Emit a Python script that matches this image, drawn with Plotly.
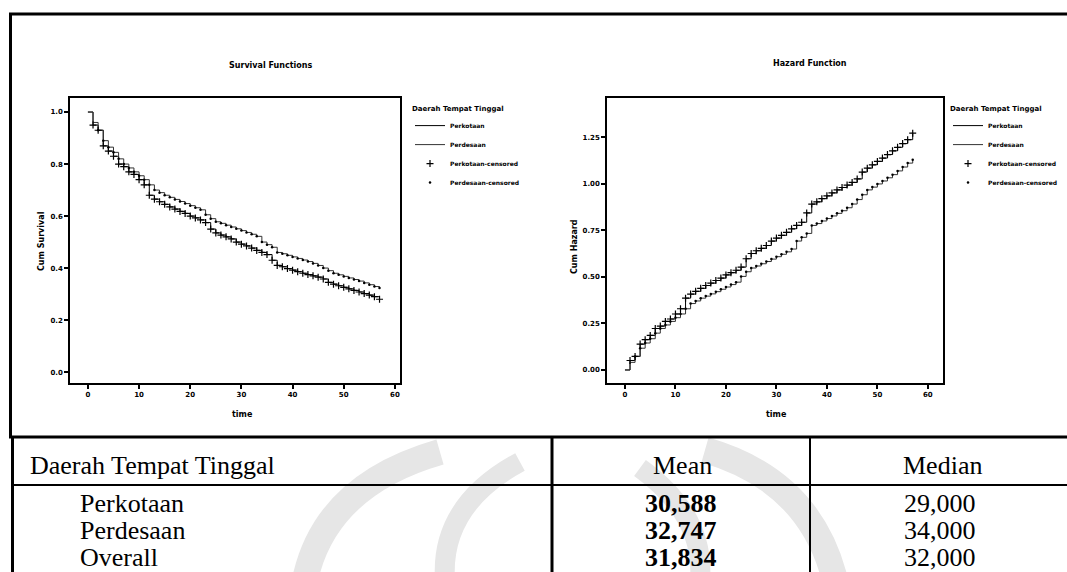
import plotly.graph_objects as go

W, H = 1067, 572

# ---------------- data ----------------
time_points = [0, 1, 2, 3, 4, 5, 6, 7, 8, 9, 10, 11, 12, 13, 14, 15, 16, 17, 18, 19,
               20, 21, 22, 23, 24, 25, 26, 27, 28, 29, 30, 31, 32, 33, 34, 35, 36, 37, 38, 39,
               40, 41, 42, 43, 44, 45, 46, 47, 48, 49, 50, 51, 52, 53, 54, 55, 56, 57]

surv_kota = [1.0, 0.95, 0.93, 0.87, 0.85, 0.83, 0.80, 0.79, 0.77, 0.76,
             0.74, 0.72, 0.68, 0.665, 0.655, 0.645, 0.635, 0.627, 0.618, 0.61,
             0.60, 0.593, 0.585, 0.575, 0.55, 0.535, 0.527, 0.52, 0.512, 0.50,
             0.492, 0.485, 0.477, 0.468, 0.46, 0.452, 0.43, 0.41, 0.405, 0.398,
             0.392, 0.386, 0.38, 0.375, 0.37, 0.365, 0.358, 0.345, 0.338, 0.332,
             0.326, 0.32, 0.314, 0.308, 0.302, 0.296, 0.29, 0.28]

surv_desa = [1.0, 0.96, 0.93, 0.89, 0.865, 0.845, 0.82, 0.80, 0.785, 0.77,
             0.755, 0.74, 0.72, 0.70, 0.69, 0.68, 0.672, 0.664, 0.656, 0.648,
             0.64, 0.632, 0.624, 0.605, 0.59, 0.578, 0.572, 0.565, 0.558, 0.551,
             0.544, 0.537, 0.53, 0.522, 0.50, 0.49, 0.48, 0.46, 0.455, 0.449,
             0.443, 0.437, 0.431, 0.425, 0.418, 0.41, 0.40, 0.39, 0.38, 0.374,
             0.368, 0.362, 0.356, 0.35, 0.343, 0.336, 0.329, 0.323]

haz_kota = [0.0, 0.051, 0.073, 0.139, 0.163, 0.186, 0.223, 0.236, 0.261, 0.274,
            0.301, 0.329, 0.386, 0.408, 0.423, 0.439, 0.454, 0.467, 0.481, 0.494,
            0.511, 0.523, 0.536, 0.553, 0.598, 0.626, 0.641, 0.654, 0.669, 0.693,
            0.709, 0.724, 0.740, 0.759, 0.777, 0.794, 0.844, 0.892, 0.904, 0.921,
            0.936, 0.952, 0.968, 0.981, 0.994, 1.008, 1.027, 1.064, 1.085, 1.103,
            1.121, 1.139, 1.158, 1.178, 1.197, 1.217, 1.238, 1.273]

haz_desa = [0.0, 0.041, 0.073, 0.117, 0.145, 0.168, 0.198, 0.223, 0.242, 0.261,
            0.281, 0.301, 0.329, 0.357, 0.371, 0.386, 0.397, 0.409, 0.421, 0.434,
            0.446, 0.459, 0.472, 0.503, 0.528, 0.548, 0.559, 0.571, 0.583, 0.596,
            0.609, 0.622, 0.635, 0.650, 0.693, 0.713, 0.734, 0.777, 0.787, 0.801,
            0.814, 0.828, 0.842, 0.856, 0.872, 0.892, 0.916, 0.942, 0.968, 0.983,
            1.000, 1.016, 1.033, 1.050, 1.070, 1.091, 1.112, 1.130]

cens_kota = [1, 2, 3, 4, 5, 6, 7, 8, 9, 10, 11, 12, 13, 14, 15, 16, 17, 18, 19, 20,
             21, 22, 23, 24, 25, 26, 27, 28, 29, 30, 31, 32, 33, 34, 35, 36, 37, 38, 39, 40,
             41, 42, 43, 44, 45, 46, 47, 48, 49, 50, 51, 52, 53, 54, 55, 56, 57]
cens_desa = [2, 3, 4, 5, 6, 7, 8, 9, 10, 11, 12, 13, 14, 15, 16, 17, 18, 19, 20,
             21, 22, 23, 24, 25, 26, 27, 28, 29, 30, 31, 32, 33, 34, 35, 36, 37, 38, 39, 40,
             41, 42, 43, 44, 45, 46, 47, 48, 49, 50, 51, 52, 53, 54, 55, 56, 57]

series_names = ["Perkotaan", "Perdesaan", "Perkotaan-censored", "Perdesaan-censored"]
legend_title = "Daerah Tempat Tinggal"

x_tick_vals = [0, 10, 20, 30, 40, 50, 60]
surv_tick_vals = [0.0, 0.2, 0.4, 0.6, 0.8, 1.0]
surv_tick_text = ["0.0", "0.2", "0.4", "0.6", "0.8", "1.0"]
haz_tick_vals = [0.0, 0.25, 0.50, 0.75, 1.00, 1.25]
haz_tick_text = ["0.00", "0.25", "0.50", "0.75", "1.00", "1.25"]

table_header = ["Daerah Tempat Tinggal", "Mean", "Median"]
table_groups = ["Perkotaan", "Perdesaan", "Overall"]
table_mean = ["30,588", "32,747", "31,834"]
table_median = ["29,000", "34,000", "32,000"]

# ---------------- helpers ----------------
def px(x):
    return x / W

def py(y):
    return 1 - y / H

BOLD = "DejaVu Sans"
SERIF = "Liberation Serif"

fig = go.Figure()

def add_panel(xa, ya, leg, v_kota, v_desa):
    fig.add_trace(go.Scatter(x=time_points, y=v_kota, mode="lines", line_shape="hv",
                             line=dict(color="black", width=1), name=series_names[0],
                             xaxis=xa, yaxis=ya, legend=leg))
    fig.add_trace(go.Scatter(x=time_points, y=v_desa, mode="lines", line_shape="hv",
                             line=dict(color="#333333", width=1), name=series_names[1],
                             xaxis=xa, yaxis=ya, legend=leg))
    fig.add_trace(go.Scatter(x=cens_kota, y=[v_kota[t] for t in cens_kota], mode="markers",
                             marker=dict(symbol="cross-thin", size=5, color="black",
                                         line=dict(color="black", width=1.2)),
                             name=series_names[2], xaxis=xa, yaxis=ya, legend=leg))
    fig.add_trace(go.Scatter(x=cens_desa, y=[v_desa[t] for t in cens_desa], mode="markers",
                             marker=dict(symbol="circle", size=2.5, color="black"),
                             name=series_names[3], xaxis=xa, yaxis=ya, legend=leg))

add_panel("x", "y", "legend", surv_kota, surv_desa)
add_panel("x2", "y2", "legend2", haz_kota, haz_desa)

axis_common = dict(showline=True, mirror=True, linecolor="black", linewidth=1.5,
                   ticks="outside", ticklen=4, tickwidth=1.5, tickcolor="black",
                   showgrid=False, zeroline=False,
                   tickfont=dict(family=BOLD, size=7, color="black", weight="bold"))

legend_common = dict(xanchor="left", yanchor="top", bgcolor="rgba(0,0,0,0)",
                     font=dict(family=BOLD, size=6, color="black", weight="bold"),
                     title=dict(text=legend_title,
                                font=dict(family=BOLD, size=7, color="black", weight="bold")),
                     tracegroupgap=0, itemwidth=30)

fig.update_layout(
    width=W, height=H,
    margin=dict(l=0, r=0, t=0, b=0),
    paper_bgcolor="white", plot_bgcolor="rgba(0,0,0,0)",
    showlegend=True,
    xaxis=dict(domain=[px(70), px(400)], range=[-3.5, 61], tickvals=x_tick_vals,
               anchor="y", **axis_common),
    yaxis=dict(domain=[py(383), py(98)], range=[-0.042, 1.054], tickvals=surv_tick_vals,
               ticktext=surv_tick_text, anchor="x", **axis_common),
    xaxis2=dict(domain=[px(607), px(943)], range=[-3.56, 63], tickvals=x_tick_vals,
                anchor="y2", **axis_common),
    yaxis2=dict(domain=[py(383), py(98)], range=[-0.07, 1.462], tickvals=haz_tick_vals,
                ticktext=haz_tick_text, anchor="x2", **axis_common),
    legend=dict(x=px(410), y=py(102), **legend_common),
    legend2=dict(x=px(948), y=py(102), **legend_common),
)

# ---------------- faint background watermark of the scanned page ----------------
wm = "#e6e6e6"

def wm_path(points, w):
    # start, control and end points (pixels) of a quadratic curve
    (x0, y0), (cx, cy), (x1, y1) = points
    p = f"M {px(x0)} {py(y0)} Q {px(cx)} {py(cy)} {px(x1)} {py(y1)}"
    fig.add_shape(type="path", xref="paper", yref="paper", layer="below", path=p,
                  line=dict(color=wm, width=w))

wm_path([(305, 580), (325, 485), (440, 452)], 26)
wm_path([(445, 580), (440, 505), (520, 462)], 20)
wm_path([(835, 580), (810, 480), (705, 450)], 26)
wm_path([(700, 580), (705, 515), (640, 468)], 20)

# ---------------- titles ----------------
title_font = dict(family=BOLD, size=8, color="black", weight="bold")
annots = [
    dict(text="Survival Functions", x=px(270), y=py(65)),
    dict(text="Hazard Function", x=px(810), y=py(64)),
    dict(text="time", x=px(242), y=py(414)),
    dict(text="time", x=px(776), y=py(414)),
    dict(text="Cum Survival", x=px(41), y=py(241), textangle=-90),
    dict(text="Cum Hazard", x=px(574), y=py(247), textangle=-90),
]
for a in annots:
    fig.add_annotation(xref="paper", yref="paper", showarrow=False,
                       xanchor="center", yanchor="middle", font=title_font, **a)

# ---------------- table ----------------
cell_font = dict(family=SERIF, size=26, color="black")
num_font = dict(family=SERIF, size=26, color="black", weight="bold")
fig.add_annotation(text=table_header[0], x=px(28), y=py(465), xref="paper", yref="paper",
                   showarrow=False, xanchor="left", yanchor="middle", font=cell_font)
fig.add_annotation(text=table_header[1], x=px(682), y=py(465), xref="paper", yref="paper",
                   showarrow=False, xanchor="center", yanchor="middle", font=cell_font)
fig.add_annotation(text=table_header[2], x=px(942), y=py(465), xref="paper", yref="paper",
                   showarrow=False, xanchor="center", yanchor="middle", font=cell_font)
row_y = [503, 530, 557]
for i, g in enumerate(table_groups):
    fig.add_annotation(text=g, x=px(78), y=py(row_y[i]), xref="paper", yref="paper",
                       showarrow=False, xanchor="left", yanchor="middle", font=cell_font)
    fig.add_annotation(text=table_mean[i], x=px(681), y=py(row_y[i]), xref="paper", yref="paper",
                       showarrow=False, xanchor="center", yanchor="middle", font=num_font)
    fig.add_annotation(text=table_median[i], x=px(940), y=py(row_y[i]), xref="paper", yref="paper",
                       showarrow=False, xanchor="center", yanchor="middle", font=cell_font)

# ---------------- frame lines ----------------
def hline(y, x0, x1, w):
    fig.add_shape(type="line", xref="paper", yref="paper", x0=px(x0), x1=px(x1),
                  y0=py(y), y1=py(y), line=dict(color="black", width=w))

def vline(x, y0, y1, w):
    fig.add_shape(type="line", xref="paper", yref="paper", x0=px(x), x1=px(x),
                  y0=py(y0), y1=py(y1), line=dict(color="black", width=w))

hline(14, 9, 1067, 3)
vline(10.5, 13, 438, 3)
hline(437, 9, 1067, 3)
hline(485, 12, 1067, 2)
vline(12.5, 436, 572, 3)
vline(552, 436, 572, 3)
vline(810, 436, 572, 2)

fig.write_html("out.html")
